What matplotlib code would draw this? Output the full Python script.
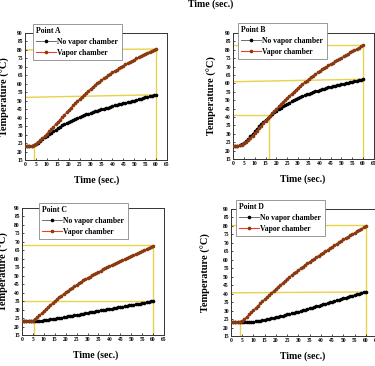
import matplotlib
matplotlib.use('Agg')
import matplotlib.pyplot as plt
import numpy as np

plt.rcParams['font.family'] = ['Liberation Serif', 'DejaVu Serif']
plt.rcParams['font.weight'] = 'bold'

time = list(range(0, 61))

a_no_vc = [23.0, 23.0, 23.0, 23.1, 23.6, 24.4, 25.3, 26.3, 27.3, 28.3,
           29.3, 30.3, 31.2, 32.1, 33.0, 33.8, 34.6, 35.4, 36.1, 36.8,
           37.5, 38.1, 38.7, 39.3, 39.9, 40.4, 40.9, 41.4, 41.9, 42.4,
           42.8, 43.3, 43.7, 44.1, 44.5, 44.9, 45.3, 45.7, 46.0, 46.4,
           47.0, 47.4, 47.7, 48.0, 48.3, 48.6, 48.9, 49.2, 49.5, 49.8,
           50.1, 50.5, 50.8, 51.2, 51.6, 52.0, 52.3, 52.6, 52.9, 53.2, 53.5]
a_vc = [23.0, 23.0, 23.0, 23.2, 23.8, 24.6, 25.6, 26.7, 27.9, 29.2,
        30.5, 31.9, 33.3, 34.7, 36.1, 37.5, 38.9, 40.3, 41.7, 43.1,
        44.5, 45.9, 47.2, 48.5, 49.8, 51.1, 52.3, 53.5, 54.7, 55.9,
        57.0, 58.1, 59.2, 60.2, 61.2, 62.2, 63.2, 64.1, 65.0, 65.9,
        66.8, 67.6, 68.4, 69.2, 70.0, 70.8, 71.5, 72.2, 72.9, 73.6,
        74.3, 75.0, 75.7, 76.4, 77.1, 77.8, 78.4, 79.0, 79.6, 80.2, 80.8]

b_no_vc = [22.5, 22.6, 22.8, 23.2, 23.8, 24.7, 25.8, 27.1, 28.5, 30.0,
           31.5, 33.0, 34.4, 35.8, 37.1, 38.3, 39.5, 40.6, 41.7, 42.7,
           43.7, 44.6, 45.5, 46.3, 47.1, 47.9, 48.6, 49.3, 50.0, 50.6,
           51.2, 51.8, 52.4, 52.9, 53.4, 53.9, 54.4, 54.9, 55.3, 55.7,
           56.1, 56.5, 56.9, 57.3, 57.6, 58.0, 58.3, 58.6, 58.9, 59.2,
           59.5, 59.8, 60.1, 60.4, 60.7, 61.0, 61.3, 61.6, 61.9, 62.2, 62.5]
b_vc = [22.5, 22.6, 22.8, 23.1, 23.6, 24.3, 25.2, 26.3, 27.5, 28.8,
        30.2, 31.7, 33.2, 34.7, 36.2, 37.7, 39.2, 40.7, 42.1, 43.5,
        44.9, 46.3, 47.6, 48.9, 50.2, 51.5, 52.7, 53.9, 55.1, 56.3,
        57.4, 58.5, 59.6, 60.7, 61.7, 62.7, 63.7, 64.7, 65.6, 66.5,
        67.4, 68.3, 69.2, 70.0, 70.8, 71.6, 72.3, 73.1, 73.8, 74.6,
        75.3, 76.1, 76.9, 77.6, 78.4, 79.1, 79.8, 80.5, 81.3, 82.0, 82.7]

c_no_vc = [23.0, 23.0, 23.0, 23.0, 23.0, 23.0, 23.0, 23.1, 23.2, 23.4,
           23.6, 23.8, 24.0, 24.2, 24.4, 24.6, 24.8, 25.1, 25.3, 25.5,
           25.8, 26.0, 26.2, 26.4, 26.7, 26.9, 27.1, 27.4, 27.6, 27.8,
           28.1, 28.3, 28.5, 28.8, 29.0, 29.2, 29.5, 29.7, 29.9, 30.2,
           30.4, 30.6, 30.9, 31.1, 31.3, 31.5, 31.8, 32.0, 32.2, 32.5,
           32.7, 32.9, 33.2, 33.4, 33.6, 33.9, 34.1, 34.3, 34.6, 34.8, 35.0]
c_vc = [23.0, 23.0, 23.0, 23.0, 23.1, 23.4, 24.3, 25.4, 26.6, 27.9,
        29.2, 30.4, 31.6, 32.8, 34.0, 35.1, 36.2, 37.3, 38.3, 39.3,
        40.3, 41.2, 42.1, 43.0, 43.9, 44.8, 45.6, 46.4, 47.2, 48.0,
        48.8, 49.5, 50.2, 50.9, 51.6, 52.3, 53.0, 53.7, 54.4, 55.0,
        55.7, 56.3, 56.9, 57.5, 58.1, 58.7, 59.3, 59.9, 60.5, 61.0,
        61.6, 62.2, 62.7, 63.3, 63.9, 64.6, 65.2, 65.8, 66.5, 67.1, 67.8]

d_no_vc = [23.0, 23.0, 23.0, 23.0, 23.0, 23.0, 23.1, 23.1, 23.2, 23.3,
           23.5, 23.7, 23.9, 24.1, 24.3, 24.6, 24.9, 25.2, 25.5, 25.8,
           26.1, 26.4, 26.7, 27.0, 27.3, 27.7, 28.0, 28.4, 28.7, 29.1,
           29.4, 29.8, 30.2, 30.5, 30.9, 31.3, 31.7, 32.1, 32.5, 32.9,
           33.3, 33.7, 34.1, 34.5, 34.9, 35.3, 35.7, 36.1, 36.5, 36.9,
           37.3, 37.7, 38.1, 38.5, 38.9, 39.3, 39.6, 40.0, 40.3, 40.7, 41.0]
d_vc = [23.0, 23.0, 23.0, 23.0, 23.3, 24.1, 25.2, 26.4, 27.7, 29.0,
        30.3, 31.6, 32.9, 34.2, 35.5, 36.8, 38.0, 39.3, 40.5, 41.7,
        42.9, 44.1, 45.3, 46.4, 47.6, 48.7, 49.8, 50.9, 52.0, 53.0,
        54.0, 55.0, 56.0, 57.0, 57.9, 58.9, 59.8, 60.7, 61.6, 62.5,
        63.4, 64.3, 65.1, 66.0, 66.8, 67.7, 68.6, 69.5, 70.4, 71.2,
        72.0, 72.8, 73.6, 74.4, 75.2, 76.0, 76.8, 77.6, 78.4, 79.2, 80.0]

# yellow guide lines: (x0, y0, x1, y1)
a_guides = [(0, 80, 60, 80.5), (60, 15, 60, 81), (0, 52, 60, 53.5),
            (4, 15, 4, 23.5), (0, 23.5, 4, 23.5)]
b_guides = [(0, 83, 60, 83), (60, 15, 60, 83), (0, 61, 60, 62.5),
            (0, 41, 16.5, 41), (16.5, 15, 16.5, 41)]
c_guides = [(0, 68, 60, 68), (60, 15, 60, 68), (0, 35, 60, 35),
            (5.5, 15, 5.5, 23.5), (0, 23.5, 5.5, 23.5)]
d_guides = [(0, 80.5, 60, 80.5), (60, 15, 60, 80.5), (0, 40.5, 60, 41),
            (4, 15, 4, 23.5), (0, 23.5, 4, 23.5)]

W, H = 375, 366
fig = plt.figure(figsize=(W / 100, H / 100), dpi=100)

panels = [
    ('Point A', a_no_vc, a_vc, a_guides, (25, 33, 167, 160), (33, 24), (5, 97)),
    ('Point B', b_no_vc, b_vc, b_guides, (233, 33, 374, 159), (238, 23), (212, 303)),
    ('Point C', c_no_vc, c_vc, c_guides, (22, 208, 164, 335), (39, 203), (4, 96)),
    ('Point D', d_no_vc, d_vc, d_guides, (231, 209, 377, 336), (236, 200), (206, 303)),
]

for name, no_vc, vc, guides, box, leg, lab in panels:
    x0, y0, x1, y1 = box
    ax = fig.add_axes([x0 / W, 1 - y1 / H, (x1 - x0) / W, (y1 - y0) / H])
    for gx0, gy0, gx1, gy1 in guides:
        ax.plot([gx0, gx1], [gy0, gy1], color='#e8d24a', lw=1.0, zorder=1)
    ax.plot(time, no_vc, color='#555555', lw=0.6, marker='o', ms=1.6,
            mfc='black', mec='black', label='No vapor chamber', zorder=3)
    ax.plot(time, vc, color='#e8402a', lw=0.8, marker='o', ms=1.6,
            mfc='#8a3a10', mec='#8a3a10', label='Vapor chamber', zorder=3)
    ax.set_xlim(0, 65)
    ax.set_ylim(15, 90)
    ax.set_xticks(np.arange(0, 66, 5))
    ax.set_yticks(np.arange(15, 91, 5))
    ax.tick_params(labelsize=4, length=1.5, width=0.5, pad=1.5, direction='in')
    for s in ax.spines.values():
        s.set_linewidth(0.7)
        s.set_color('#333333')
    lg = ax.legend(loc='upper left', bbox_to_anchor=(leg[0] / W, 1 - leg[1] / H),
                   bbox_transform=fig.transFigure, title=name, alignment='left',
                   fontsize=5.5, title_fontsize=5.5, frameon=True, fancybox=False,
                   framealpha=1, edgecolor='#888888', borderpad=0.45,
                   labelspacing=0.35, handlelength=2.5, handletextpad=0.25,
                   borderaxespad=0)
    lg.get_frame().set_linewidth(0.6)
    lg.get_title().set_fontweight('bold')
    fig.text(lab[0] / W, 1 - (y0 + y1) / 2 / H, 'Temperature (°C)', rotation=90,
             ha='center', va='center', fontsize=7.5, fontweight='bold')
    fig.text(lab[1] / W, 1 - (y1 + 20) / H, 'Time (sec.)', ha='center',
             va='center', fontsize=7, fontweight='bold')

fig.text(211 / W, 1 - 4 / H, 'Time (sec.)', ha='center', va='center',
         fontsize=7, fontweight='bold')

fig.savefig('out.png', dpi=100)
